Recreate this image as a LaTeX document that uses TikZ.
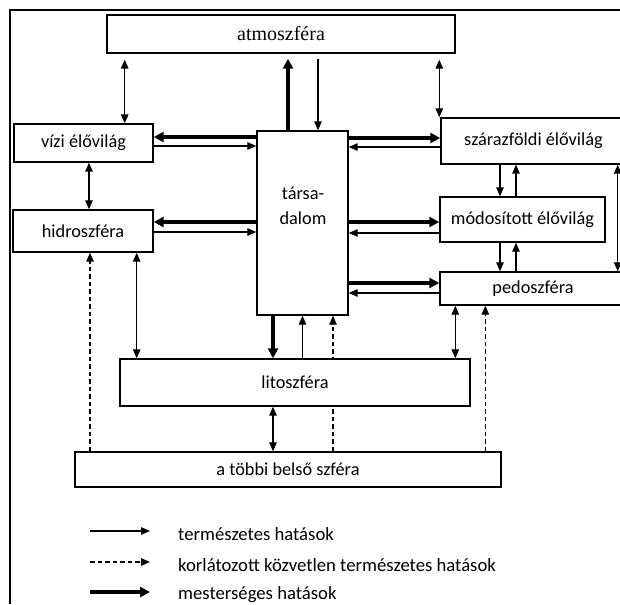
\documentclass[tikz,border=0pt]{standalone}
\usepackage{fontspec}
\setmainfont{Carlito}
\newfontfamily\atmfont{Liberation Serif}
\usetikzlibrary{arrows.meta,backgrounds}

\begin{document}
\begin{tikzpicture}[x=1pt, y=-1pt,
    box/.style={rectangle, draw, line width=1.4pt, fill=white, inner sep=0pt,
      font=\fontsize{18.3}{25}\selectfont},
    legend/.style={anchor=west, inner sep=0pt, font=\fontsize{18.7}{20}\selectfont},
    termeszetes/.style={line width=1.2pt, -{Triangle[length=9pt,width=7.5pt]}},
    kolcsonos/.style={line width=1.2pt, {Triangle[length=9pt,width=7.5pt]}-{Triangle[length=9pt,width=7.5pt]}},
    korlatozott/.style={line width=1.2pt, dash pattern=on 4.5pt off 3pt, -{Triangle[length=9pt,width=7.5pt]}},
    mesterseges/.style={line width=3.2pt, -{Triangle[length=10pt,width=10pt]}}]
    \useasboundingbox (0,0) rectangle (620,604);

    % keret
    \draw[line width=1.6pt] (10,604) -- (10,10) -- (620,10);

    % szferak
    \node[box, minimum width=348pt, minimum height=38pt,
      font=\atmfont\fontsize{20}{24}\selectfont] (atm) at (281,34) {atmoszféra};
    \node[box, minimum width=139pt, minimum height=38pt] (vizi) at (83.5,143) {vízi élővilág};
    \node[box, minimum width=140pt, minimum height=42pt] (hidro) at (83,231) {hidroszféra};
    \node[box, minimum width=91pt, minimum height=184pt] (tars) at (302.5,223) {};
    \node[align=center, inner sep=0pt, font=\fontsize{18.3}{25}\selectfont] (tarsfelirat) at (303,206) {társa-\\dalom};
    \node[box, minimum width=185pt, minimum height=46pt] (szaraz) at (533.5,141) {szárazföldi élővilág};
    \node[box, minimum width=165pt, minimum height=45pt] (mod) at (522.5,219.5) {módosított élővilág};
    \node[box, minimum width=186pt, minimum height=33pt] (pedo) at (533,288.5) {pedoszféra};
    \node[box, minimum width=350pt, minimum height=47pt] (lito) at (295,382.5) {litoszféra};
    \node[box, minimum width=426pt, minimum height=35pt] (tobbi) at (288,469.5) {a többi belső szféra};

    % atmoszfera
    \draw[kolcsonos, shorten <=6pt] ([xshift=-29pt]vizi.north east |- atm.south) -- ([xshift=-29pt]vizi.north east);
    \draw[kolcsonos, shorten <=6pt] ([xshift=-1pt]szaraz.north west |- atm.south) -- ([xshift=-1pt]szaraz.north west);
    \draw[mesterseges, shorten >=5pt] ([xshift=-14.5pt]tars.north) -- ([xshift=-14.5pt]tars.north |- atm.south);
    \draw[termeszetes, shorten <=5pt] ([xshift=15.5pt]tars.north |- atm.south) -- ([xshift=15.5pt]tars.north);

    % tarsadalom oldalt
    \draw[mesterseges] ([yshift=6pt]vizi.east -| tars.west) -- ([yshift=6pt]vizi.east);
    \draw[termeszetes] ([yshift=-3pt]vizi.east) -- ([yshift=-3pt]vizi.east -| tars.west);
    \draw[mesterseges] ([yshift=3pt]szaraz.west -| tars.east) -- ([yshift=3pt]szaraz.west);
    \draw[termeszetes] ([yshift=-6pt]szaraz.west) -- ([yshift=-6pt]szaraz.west -| tars.east);
    \draw[mesterseges] ([yshift=9pt]hidro.east -| tars.west) -- ([yshift=9pt]hidro.east);
    \draw[termeszetes] ([yshift=-1pt]hidro.east) -- ([yshift=-1pt]hidro.east -| tars.west);
    \draw[mesterseges] ([yshift=-2.5pt]mod.west -| tars.east) -- ([yshift=-2.5pt]mod.west);
    \draw[termeszetes] ([yshift=-13.5pt]mod.west) -- ([yshift=-13.5pt]mod.west -| tars.east);
    \draw[mesterseges] ([yshift=5.5pt]pedo.west -| tars.east) -- ([yshift=5.5pt]pedo.west);
    \draw[termeszetes] ([yshift=-4.5pt]pedo.west) -- ([yshift=-4.5pt]pedo.west -| tars.east);

    % eloviag es pedoszfera
    \draw[kolcsonos] ([xshift=5.5pt]vizi.south) -- ([xshift=5.5pt]vizi.south |- hidro.north);
    \draw[termeszetes] ([xshift=-22.5pt]mod.north |- szaraz.south) -- ([xshift=-22.5pt]mod.north);
    \draw[termeszetes] ([xshift=-6.5pt]mod.north) -- ([xshift=-6.5pt]mod.north |- szaraz.south);
    \draw[termeszetes] ([xshift=-22.5pt]mod.south) -- ([xshift=-22.5pt]mod.south |- pedo.north);
    \draw[termeszetes] ([xshift=-6.5pt]mod.south |- pedo.north) -- ([xshift=-6.5pt]mod.south);
    \draw[kolcsonos] ([xshift=-9pt]szaraz.south east) -- ([xshift=-9pt]szaraz.south east |- pedo.north);

    % litoszfera
    \draw[mesterseges] ([xshift=-29.5pt]tars.south) -- ([xshift=-29.5pt]tars.south |- lito.north);
    \draw[termeszetes] (tars.south |- lito.north) -- (tars.south);
    \draw[kolcsonos] ([xshift=-17pt]hidro.south east) -- ([xshift=-17pt]hidro.south east |- lito.north);
    \draw[kolcsonos] ([xshift=16pt]pedo.south west) -- ([xshift=16pt]pedo.south west |- lito.north);
    \draw[kolcsonos] ([xshift=-22pt]lito.south) -- ([xshift=-22pt]lito.south |- tobbi.north);

    % korlatozott hatasok
    \begin{scope}[on background layer]
      \draw[korlatozott] ([xshift=7pt]hidro.south |- tobbi.north) -- ([xshift=7pt]hidro.south);
      \draw[korlatozott] ([xshift=30.5pt]tars.south |- tobbi.north) -- ([xshift=30.5pt]tars.south);
      \draw[korlatozott] ([xshift=46pt]pedo.south west |- tobbi.north) -- ([xshift=46pt]pedo.south west);
    \end{scope}

    % jelmagyarazat
    \node[legend] (lterm) at (178,534) {természetes hatások};
    \node[legend] (lkorl) at (178,565) {korlátozott közvetlen természetes hatások};
    \node[legend] (lmest) at (178,595) {mesterséges hatások};
    \draw[termeszetes] ([shift={(-88pt,3pt)}]lterm.west) -- ([shift={(-28pt,3pt)}]lterm.west);
    \draw[korlatozott] ([shift={(-88pt,3pt)}]lkorl.west) -- ([shift={(-28pt,3pt)}]lkorl.west);
    \draw[mesterseges] ([shift={(-88pt,3pt)}]lmest.west) -- ([shift={(-28pt,3pt)}]lmest.west);
\end{tikzpicture}
\end{document}
